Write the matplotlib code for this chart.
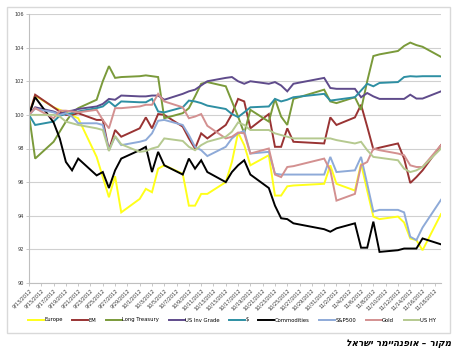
import numpy as np
import pandas as pd
import matplotlib
matplotlib.use("Agg")
import matplotlib.pyplot as plt
from matplotlib.patches import Rectangle

# trading days (markets closed 10/29-10/30)
dates = ["2012-09-13", "2012-09-14", "2012-09-17", "2012-09-18", "2012-09-19", "2012-09-20",
         "2012-09-21", "2012-09-24", "2012-09-25", "2012-09-26", "2012-09-27", "2012-09-28",
         "2012-10-01", "2012-10-02", "2012-10-03", "2012-10-04", "2012-10-05", "2012-10-08",
         "2012-10-09", "2012-10-10", "2012-10-11", "2012-10-12", "2012-10-15", "2012-10-16",
         "2012-10-17", "2012-10-18", "2012-10-19", "2012-10-22", "2012-10-23", "2012-10-24",
         "2012-10-25", "2012-10-26", "2012-10-31", "2012-11-01", "2012-11-02", "2012-11-05",
         "2012-11-06", "2012-11-07", "2012-11-08", "2012-11-09", "2012-11-12", "2012-11-13",
         "2012-11-14", "2012-11-15", "2012-11-16", "2012-11-19"]

europe = [100.0, 101.15, 100.45, 100.3, 100.15, 99.95, 99.8, 97.5, 96.3, 95.1, 96.35, 94.2,
          95.0, 95.6, 95.4, 96.8, 97.0, 96.5, 94.6, 94.6, 95.3, 95.3, 96.0, 97.2,
          98.95, 98.2, 97.0, 97.6, 95.2, 95.2, 95.75, 95.8, 95.9, 97.0, 95.9, 95.5,
          97.1, 95.5, 93.95, 93.8, 93.95, 93.6, 92.65, 92.55, 91.95, 94.1]
em = [100.0, 101.2, 100.45, 100.2, 100.0, 100.0, 100.1, 99.7, 99.7, 97.9, 99.1, 98.7,
      99.2, 99.85, 99.2, 100.05, 100.0, 99.3, 98.6, 98.0, 98.9, 98.6, 99.4, 100.05,
      100.95, 100.8, 99.2, 100.05, 98.1, 98.1, 99.2, 98.4, 98.3, 99.85, 99.4, 99.85,
      100.6, 99.3, 97.95, 98.05, 98.3, 97.4, 95.95, 96.3, 96.7, 98.2]
long_treasury = [100.0, 97.4, 98.4, 99.0, 99.6, 100.1, 100.4, 100.9, 102.0, 102.9, 102.2, 102.25,
                 102.3, 102.35, 102.3, 102.25, 99.8, 100.1, 100.4, 101.1, 101.85, 101.95, 101.7, 100.8,
                 99.9, 98.9, 100.3, 99.6, 100.95, 99.9, 99.4, 100.95, 101.5, 100.8, 100.7, 101.05,
                 100.3, 102.0, 103.5, 103.6, 103.8, 104.1, 104.3, 104.15, 104.05, 103.45]
us_inv_grade = [100.0, 100.45, 100.2, 100.05, 100.2, 100.25, 100.35, 100.5, 100.65, 100.95, 100.9, 101.15,
                101.1, 101.1, 101.15, 101.15, 100.9, 101.25, 101.4, 101.5, 101.75, 102.0, 102.2, 102.25,
                102.0, 101.85, 102.0, 101.85, 101.95, 101.75, 101.4, 101.85, 102.2, 101.6, 101.55, 101.55,
                101.05, 101.3, 101.1, 100.95, 100.95, 100.95, 101.2, 100.97, 100.97, 101.4]
usd = [100.0, 99.4, 99.6, 99.95, 100.05, 100.1, 100.2, 100.4, 100.5, 100.8, 100.5, 100.8,
       100.75, 100.75, 100.95, 100.2, 100.15, 100.45, 100.85, 100.8, 100.7, 100.55, 100.35, 100.05,
       99.87, 100.15, 100.45, 100.5, 100.95, 100.8, 100.9, 101.05, 101.25, 100.85, 100.9, 101.05,
       101.45, 101.85, 101.7, 101.9, 101.95, 102.25, 102.3, 102.28, 102.3, 102.3]
commodities = [100.0, 101.05, 99.55, 98.6, 97.2, 96.7, 97.4, 96.4, 96.6, 95.65, 96.7, 97.4,
               97.9, 98.1, 96.6, 97.8, 97.0, 96.45, 97.4, 96.8, 97.3, 96.6, 96.0, 96.6,
               97.0, 97.3, 96.45, 95.65, 94.6, 93.85, 93.8, 93.55, 93.2, 93.05, 93.25, 93.55,
               92.1, 92.1, 93.65, 91.85, 91.95, 92.05, 92.05, 92.05, 92.65, 92.3]
sp500 = [100.0, 100.37, 100.15, 100.0, 100.1, 99.9, 99.5, 99.5, 99.4, 97.9, 98.7, 98.2,
         98.4, 98.5, 98.9, 99.65, 99.7, 99.4, 98.8, 98.1, 97.9, 97.55, 98.1, 98.6,
         98.9, 99.05, 97.7, 97.8, 96.5, 96.45, 96.45, 96.45, 96.45, 97.5, 96.6, 96.7,
         97.5, 95.9, 94.25, 94.35, 94.35, 94.2, 92.75, 92.55, 93.3, 94.95]
gold = [100.0, 100.4, 99.8, 100.25, 100.25, 100.2, 100.15, 100.3, 99.7, 99.2, 100.4, 100.4,
        100.5, 100.6, 100.6, 101.25, 100.8, 100.45, 99.8, 99.9, 100.05, 99.35, 98.6, 98.7,
        98.95, 98.9, 97.7, 98.0, 96.45, 96.3, 96.9, 96.95, 97.4, 96.7, 94.9, 95.3,
        97.0, 97.2, 98.0, 97.9, 97.7, 97.6, 97.0, 96.9, 96.9, 98.2]
us_hy = [100.0, 100.0, 100.0, 99.9, 99.6, 99.5, 99.4, 99.2, 99.1, 97.85, 98.75, 98.25,
         97.8, 97.85, 98.0, 98.1, 98.6, 98.45, 98.1, 97.9, 98.2, 98.4, 98.7, 99.0,
         99.55, 99.4, 99.1, 99.1, 98.9, 98.8, 98.7, 98.6, 98.6, 98.6, 98.5, 98.3,
         98.4, 97.9, 97.5, 97.45, 97.3, 96.8, 96.6, 96.7, 96.9, 98.0]

names = ["Europe", "EM", "Long Treasury", "US Inv Grade", r"\$", "Commodities", "S&P500", "Gold", "US HY"]
series = [europe, em, long_treasury, us_inv_grade, usd, commodities, sp500, gold, us_hy]
colors = ["#FFFF1A", "#993333", "#7A9A3A", "#5F4B8B", "#2E8FA3", "#000000", "#8EAAD8", "#D39090", "#B5C98F"]

y_ticks = [90, 92, 94, 96, 98, 100, 102, 104, 106]
caption = "מקור – אופנהיימר ישראל"

x = pd.to_datetime(dates)

fig = plt.figure(figsize=(4.58, 3.54), dpi=100)
ax = fig.add_axes([29 / 458, 1 - 283 / 354, 412 / 458, 269 / 354])

for vals, name, col in zip(series, names, colors):
    ax.plot(x, vals, color=col, lw=1.4, label=name, solid_joinstyle="miter")

ax.set_ylim(90, 106)
ax.set_yticks(y_ticks)
ax.set_yticklabels([str(t) for t in y_ticks], fontsize=3.6, color="#333333")
ax.set_xlim(pd.Timestamp("2012-09-13"), pd.Timestamp("2012-11-19"))

tick_dates = pd.date_range("2012-09-13", "2012-11-18", freq="2D")
ax.set_xticks(tick_dates)
ax.set_xticklabels([f"{d.month}/{d.day}/{d.year}" for d in tick_dates],
                   rotation=45, ha="right", rotation_mode="anchor", fontsize=3.6, color="#333333")

ax.grid(axis="y", color="#D0D0D0", lw=0.8)
ax.set_axisbelow(True)
for s in ["top", "right"]:
    ax.spines[s].set_visible(False)
for s in ["left", "bottom"]:
    ax.spines[s].set_color("#BFBFBF")
    ax.spines[s].set_linewidth(0.8)
ax.tick_params(axis="both", length=2, width=0.6, color="#BFBFBF", pad=1.5)

leg = fig.legend(loc="center", bbox_to_anchor=(232 / 458, 1 - 320 / 354), ncol=9, frameon=False,
                 fontsize=3.8, handlelength=3.0, columnspacing=1.8, handletextpad=0.1)
for line in leg.get_lines():
    line.set_linewidth(1.4)

# chart frame
fig.add_artist(Rectangle((7 / 458, 1 - 333 / 354), 443 / 458, 326 / 354,
                         transform=fig.transFigure, fill=False, edgecolor="#D9D9D9", lw=1.0))

# hebrew source note (rendered right-to-left by reversing the characters)
fig.text(451 / 458, 1 - 344 / 354, caption[::-1], ha="right", va="center",
         fontsize=6.5, fontweight="bold", style="italic", family="DejaVu Sans")

fig.savefig("out.png", dpi=100)
